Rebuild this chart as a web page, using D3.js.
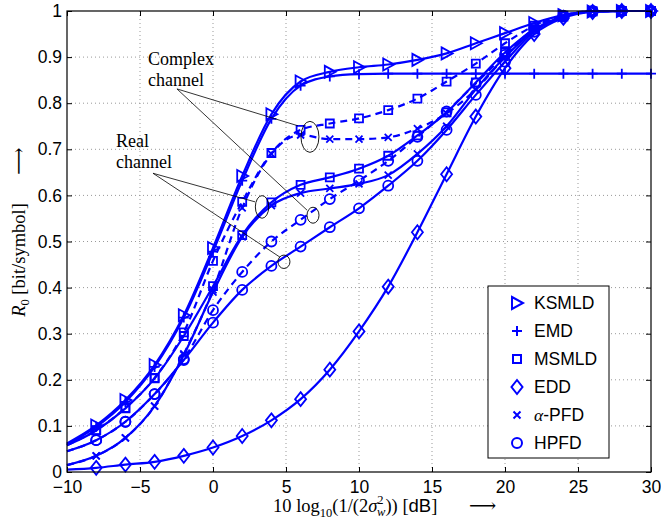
<!DOCTYPE html>
<html>
<head>
<meta charset="utf-8">
<script src="https://cdn.jsdelivr.net/npm/d3@7"></script>
<style>
  body { margin: 0; background: #fff; }
  svg { font-family: "Liberation Sans", Arial, sans-serif; }
  .tex { font-family: "Liberation Serif", "DejaVu Serif", serif; }
</style>
</head>
<body>
<div id="chart"></div>
<script>
// SNR grid (dB), one value every 2 dB
const snr = [-10, -8, -6, -4, -2, 0, 2, 4, 6, 8, 10, 12, 14, 16, 18, 20, 22, 24, 26, 28, 30];

// R0 values
const ksmld = [0.062, 0.101, 0.156, 0.232, 0.340, 0.486, 0.642, 0.776, 0.847, 0.868, 0.878, 0.884, 0.894, 0.908, 0.930, 0.952, 0.974, 0.991, 0.999, 1.0, 1.0];
const emd = [0.060, 0.098, 0.152, 0.228, 0.335, 0.478, 0.632, 0.766, 0.838, 0.858, 0.863, 0.864, 0.864, 0.864, 0.864, 0.864, 0.864, 0.864, 0.864, 0.864, 0.864];
const msmldComplex = [0.058, 0.091, 0.139, 0.204, 0.303, 0.458, 0.586, 0.692, 0.742, 0.756, 0.767, 0.785, 0.810, 0.847, 0.886, 0.930, 0.968, 0.990, 0.999, 1.0, 1.0];
const msmldReal = [0.058, 0.090, 0.138, 0.203, 0.295, 0.403, 0.514, 0.585, 0.623, 0.639, 0.658, 0.686, 0.730, 0.780, 0.845, 0.910, 0.960, 0.988, 0.999, 1.0, 1.0];
const eddValues = [0.005, 0.009, 0.016, 0.022, 0.035, 0.053, 0.078, 0.112, 0.158, 0.222, 0.305, 0.402, 0.520, 0.646, 0.771, 0.876, 0.950, 0.985, 0.998, 1.0, 1.0];
const apfdComplex = [0.015, 0.035, 0.074, 0.143, 0.256, 0.395, 0.573, 0.690, 0.731, 0.722, 0.722, 0.726, 0.745, 0.778, 0.830, 0.900, 0.960, 0.988, 0.999, 1.0, 1.0];
const apfdReal = [0.015, 0.035, 0.074, 0.143, 0.254, 0.390, 0.510, 0.578, 0.605, 0.615, 0.625, 0.644, 0.690, 0.750, 0.830, 0.900, 0.958, 0.988, 0.999, 1.0, 1.0];
const hpfdComplex = [0.045, 0.069, 0.109, 0.169, 0.245, 0.351, 0.434, 0.500, 0.547, 0.592, 0.632, 0.675, 0.727, 0.782, 0.843, 0.905, 0.962, 0.990, 1.0, 1.0, 1.0];
const hpfdReal = [0.045, 0.069, 0.109, 0.169, 0.243, 0.324, 0.395, 0.447, 0.489, 0.531, 0.572, 0.621, 0.675, 0.742, 0.818, 0.890, 0.955, 0.988, 0.999, 1.0, 1.0];

const xTicks = [-10, -5, 0, 5, 10, 15, 20, 25, 30];
const yTicks = [0, 0.1, 0.2, 0.3, 0.4, 0.5, 0.6, 0.7, 0.8, 0.9, 1];
const yTickLabels = ['0', '0.1', '0.2', '0.3', '0.4', '0.5', '0.6', '0.7', '0.8', '0.9', '1'];

const legendNames = ['KSMLD', 'EMD', 'MSMLD', 'EDD', 'α-PFD', 'HPFD'];
const legendMarkers = ['triangle', 'plus', 'square', 'diamond', 'cross', 'circle'];

// curve table for drawing
const series = [
  { values: ksmld, marker: 'triangle', dashed: false },
  { values: emd, marker: 'plus', dashed: false },
  { values: msmldComplex, marker: 'square', dashed: true },
  { values: msmldReal, marker: 'square', dashed: false },
  { values: eddValues, marker: 'diamond', dashed: false },
  { values: apfdComplex, marker: 'cross', dashed: true },
  { values: apfdReal, marker: 'cross', dashed: false },
  { values: hpfdComplex, marker: 'circle', dashed: true },
  { values: hpfdReal, marker: 'circle', dashed: false },
];

const width = 661;
const height = 525;
const margin = { top: 11, right: 10, bottom: 53, left: 67 };
const blue = '#0000ff';

const usableArea = {
  top: margin.top,
  right: width - margin.right,
  bottom: height - margin.bottom,
  left: margin.left,
  width: width - margin.left - margin.right,
  height: height - margin.top - margin.bottom,
};

function markerPath(type) {
  switch (type) {
    case 'triangle': return 'M-5,-6L6,0L-5,6Z';
    case 'plus': return 'M-5,0H5M0,-5V5';
    case 'square': return 'M-4,-4H4V4H-4Z';
    case 'diamond': return 'M0,-7L5.5,0L0,7L-5.5,0Z';
    case 'cross': return 'M-3.5,-3.5L3.5,3.5M-3.5,3.5L3.5,-3.5';
    default: return 'M-5,0A5,5 0 1,0 5,0A5,5 0 1,0 -5,0Z';
  }
}

const svg = d3
  .select('#chart')
  .append('svg')
  .attr('width', width)
  .attr('height', height);

const xScale = d3.scaleLinear().domain([-10, 30]).range([usableArea.left, usableArea.right]);
const yScale = d3.scaleLinear().domain([0, 1]).range([usableArea.bottom, usableArea.top]);

// dotted grid
const grid = svg.append('g').attr('class', 'grid')
  .attr('stroke', '#999').attr('stroke-width', 1).attr('stroke-dasharray', '1,3');
grid.selectAll('.gx').data(xTicks.slice(1, -1)).join('line')
  .attr('x1', (d) => xScale(d)).attr('x2', (d) => xScale(d))
  .attr('y1', usableArea.top).attr('y2', usableArea.bottom);
grid.selectAll('.gy').data(yTicks.slice(1, -1)).join('line')
  .attr('y1', (d) => yScale(d)).attr('y2', (d) => yScale(d))
  .attr('x1', usableArea.left).attr('x2', usableArea.right);

// curves
const line = d3.line()
  .x((d) => xScale(d[0]))
  .y((d) => yScale(d[1]))
  .curve(d3.curveMonotoneX);

series.forEach((s) => {
  const pts = snr.map((x, i) => [x, s.values[i]]);
  svg.append('path')
    .datum(pts)
    .attr('d', line)
    .attr('fill', 'none')
    .attr('stroke', blue)
    .attr('stroke-width', 2.2)
    .attr('stroke-dasharray', s.dashed ? '7,5' : null);

  // markers start at -8 dB
  svg.append('g')
    .selectAll('path')
    .data(pts.filter((d) => d[0] > -10))
    .join('path')
    .attr('transform', (d) => `translate(${xScale(d[0])},${yScale(d[1])})`)
    .attr('d', markerPath(s.marker))
    .attr('fill', 'none')
    .attr('stroke', blue)
    .attr('stroke-width', 1.8);
});

// axes with inward ticks on all sides
const xAxis = d3.axisBottom(xScale).tickValues(xTicks).tickSizeInner(-5).tickSizeOuter(0).tickPadding(9);
const yAxis = d3.axisLeft(yScale).tickValues(yTicks).tickFormat((d, i) => yTickLabels[i])
  .tickSizeInner(-5).tickSizeOuter(0).tickPadding(5);

svg.append('g')
  .attr('transform', `translate(0, ${usableArea.bottom})`)
  .call(xAxis);
svg.append('g')
  .attr('transform', `translate(${usableArea.left}, 0)`)
  .call(yAxis);
svg.append('g')
  .attr('transform', `translate(0, ${usableArea.top})`)
  .call(d3.axisTop(xScale).tickValues(xTicks).tickFormat('').tickSizeInner(-5).tickSizeOuter(0));
svg.append('g')
  .attr('transform', `translate(${usableArea.right}, 0)`)
  .call(d3.axisRight(yScale).tickValues(yTicks).tickFormat('').tickSizeInner(-5).tickSizeOuter(0));

svg.selectAll('.domain').remove();
svg.selectAll('.tick line').attr('stroke', '#000');
svg.selectAll('.tick text').attr('font-size', 17.5).attr('fill', '#000')
  .attr('font-family', null);

svg.append('rect')
  .attr('x', usableArea.left).attr('y', usableArea.top)
  .attr('width', usableArea.width).attr('height', usableArea.height)
  .attr('fill', 'none').attr('stroke', '#000').attr('stroke-width', 1.2);

// axis labels
const xl = svg.append('text').attr('class', 'tex')
  .attr('x', 273).attr('y', 512).attr('font-size', 18.5);
xl.append('tspan').text('10 log');
xl.append('tspan').attr('font-size', 12.5).attr('dy', 5).text('10');
xl.append('tspan').attr('dy', -5).text('(1/(2');
xl.append('tspan').attr('font-style', 'italic').text('σ');
xl.append('tspan').attr('font-size', 12.5).attr('dy', -8).text('2');
xl.append('tspan').attr('font-size', 12.5).attr('font-style', 'italic').attr('dx', -6.5).attr('dy', 12).text('w');
xl.append('tspan').attr('dy', -4).text(')) [');
xl.append('tspan').style('font-family', '"Liberation Sans", Arial, sans-serif').text('dB');
xl.append('tspan').text(']');
svg.append('text')
  .attr('x', 469).attr('y', 512)
  .style('font-family', '"DejaVu Serif", serif')
  .attr('font-size', 19)
  .text('⟶');

const yl = svg.append('text').attr('class', 'tex')
  .attr('transform', 'translate(25, 260) rotate(-90)')
  .attr('text-anchor', 'middle')
  .attr('font-size', 18.5);
yl.append('tspan').attr('font-style', 'italic').text('R');
yl.append('tspan').attr('font-size', 12.5).attr('dy', 4).text('0');
yl.append('tspan').attr('dy', -4).text(' [bit/symbol]');
svg.append('text')
  .attr('transform', 'translate(25, 161) rotate(-90)')
  .attr('text-anchor', 'middle')
  .style('font-family', '"DejaVu Serif", serif')
  .attr('font-size', 19)
  .text('⟶');

// annotations (data coordinates)
const notes = svg.append('g').attr('class', 'tex').attr('font-size', 18);
function label(lines, x, y0, y1) {
  notes.append('text').attr('x', xScale(x)).attr('y', yScale(y0)).text(lines[0]);
  notes.append('text').attr('x', xScale(x)).attr('y', yScale(y1)).text(lines[1]);
}
label(['Complex', 'channel'], -4.45, 0.883, 0.837);
label(['Real', 'channel'], -6.64, 0.705, 0.659);

const pointers = [
  { from: [-2.47, 0.831], to: [5.82, 0.751] },
  { from: [-2.47, 0.831], to: [6.44, 0.568] },
  { from: [-4.11, 0.648], to: [2.88, 0.586] },
  { from: [-4.11, 0.648], to: [4.59, 0.466] },
];
notes.selectAll('line').data(pointers).join('line')
  .attr('x1', (d) => xScale(d.from[0])).attr('y1', (d) => yScale(d.from[1]))
  .attr('x2', (d) => xScale(d.to[0])).attr('y2', (d) => yScale(d.to[1]))
  .attr('stroke', '#000').attr('stroke-width', 0.8);

const rings = [
  { c: [6.64, 0.727], rx: 9, ry: 15.5 },
  { c: [6.85, 0.557], rx: 6, ry: 8 },
  { c: [3.36, 0.575], rx: 6.7, ry: 11.3 },
  { c: [4.86, 0.456], rx: 6, ry: 6.7 },
];
notes.selectAll('ellipse').data(rings).join('ellipse')
  .attr('cx', (d) => xScale(d.c[0])).attr('cy', (d) => yScale(d.c[1]))
  .attr('rx', (d) => d.rx).attr('ry', (d) => d.ry)
  .attr('fill', 'none').attr('stroke', '#000').attr('stroke-width', 0.9);

// legend
const legend = svg.append('g').attr('transform', 'translate(488, 286)');
legend.append('rect')
  .attr('width', 121).attr('height', 172)
  .attr('fill', '#fff').attr('stroke', '#000').attr('stroke-width', 1);
const rows = legend.selectAll('.row').data(legendNames).join('g')
  .attr('transform', (d, i) => `translate(0, ${17 + i * 28})`);
rows.append('path')
  .attr('transform', 'translate(29, 0)')
  .attr('d', (d, i) => markerPath(legendMarkers[i]))
  .attr('fill', 'none').attr('stroke', blue).attr('stroke-width', 2);
rows.append('text')
  .attr('x', 46).attr('dy', '0.35em')
  .attr('font-size', 17.5)
  .each(function (d) {
    const t = d3.select(this);
    if (d.startsWith('α')) {
      t.append('tspan').attr('class', 'tex').attr('font-style', 'italic').text('α');
      t.append('tspan').text(d.slice(1));
    } else {
      t.text(d);
    }
  });
</script>
</body>
</html>
